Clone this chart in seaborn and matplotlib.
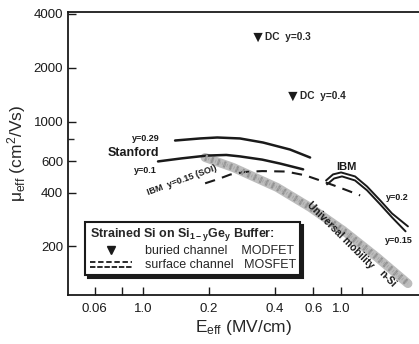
import matplotlib
matplotlib.use("Agg")
import matplotlib.pyplot as plt
import pandas as pd
import seaborn as sns
from matplotlib.legend_handler import HandlerBase
from matplotlib.lines import Line2D

# Stanford strained-Si MOSFETs
stanford_029_e = [0.140, 0.182, 0.218, 0.277, 0.353, 0.469, 0.579]
stanford_029_mu = [783, 804, 814, 804, 763, 697, 629]
stanford_01_e = [0.117, 0.150, 0.196, 0.240, 0.277, 0.350, 0.422, 0.538]
stanford_01_mu = [598, 622, 645, 650, 638, 612, 582, 540]

# IBM y=0.15 on SOI (dashed)
ibm_soi_e = [0.192, 0.222, 0.250, 0.290, 0.350, 0.450, 0.550, 0.650, 0.740, 0.850, 0.980]
ibm_soi_mu = [451, 478, 505, 522, 528, 525, 500, 466, 440, 413, 386]

# IBM y=0.2 / y=0.15
ibm_02_e = [0.685, 0.737, 0.802, 0.929, 1.054, 1.21, 1.37, 1.62]
ibm_02_mu = [468, 506, 519, 493, 433, 362, 306, 259]
ibm_015_e = [0.692, 0.745, 0.810, 0.929, 1.054, 1.21, 1.37, 1.58]
ibm_015_mu = [445, 480, 493, 468, 412, 344, 291, 243]

# universal mobility of n-Si
universal_e = [0.192, 0.258, 0.409, 0.579, 0.819, 1.17, 1.62]
universal_mu = [629, 553, 428, 331, 246, 174, 124]

# buried channel MODFETs
dc_e = [0.335, 0.483]
dc_mu = [2950, 1380]
dc_labels = ["DC  y=0.3", "DC  y=0.4"]

x_ticks = [0.06, 0.08, 0.1, 0.2, 0.4, 0.6, 0.8, 1.0]
x_tick_labels = ["0.06", "", "1.0", "0.2", "0.4", "0.6", "1.0", ""]
y_ticks = [200, 400, 600, 1000, 2000, 4000]
y_minor_ticks = [800]


def curve_frame(name, e, mu):
    return pd.DataFrame({"curve": name, "E": e, "mu": mu})


df = pd.concat(
    [
        curve_frame("universal", universal_e, universal_mu),
        curve_frame("stanford_029", stanford_029_e, stanford_029_mu),
        curve_frame("stanford_01", stanford_01_e, stanford_01_mu),
        curve_frame("ibm_soi", ibm_soi_e, ibm_soi_mu),
        curve_frame("ibm_02", ibm_02_e, ibm_02_mu),
        curve_frame("ibm_015", ibm_015_e, ibm_015_mu),
    ],
    ignore_index=True,
)
dc_df = pd.DataFrame({"E": dc_e, "mu": dc_mu, "label": dc_labels})

styles = {
    "universal": dict(color="#bdbdbd", lw=6.5, ls="-"),
    "stanford_029": dict(color="#1a1a1a", lw=1.8, ls="-"),
    "stanford_01": dict(color="#1a1a1a", lw=1.8, ls="-"),
    "ibm_soi": dict(color="#1a1a1a", lw=1.5, ls=(0, (5, 3.5))),
    "ibm_02": dict(color="#1a1a1a", lw=1.4, ls="-"),
    "ibm_015": dict(color="#1a1a1a", lw=1.4, ls="-"),
}

sns.set_style("ticks")
plt.rcParams["font.family"] = ["Liberation Sans", "DejaVu Sans"]
plt.rcParams["mathtext.fontset"] = "custom"
plt.rcParams["mathtext.rm"] = "Liberation Sans"
plt.rcParams["mathtext.it"] = "Liberation Sans:italic"
plt.rcParams["mathtext.bf"] = "Liberation Sans:bold"

fig = plt.figure(figsize=(4.19, 3.44), dpi=100)
ax = fig.add_axes([68 / 419, 49 / 344, 351 / 419, 283 / 344])

for name, st in styles.items():
    sns.lineplot(
        data=df[df["curve"] == name], x="E", y="mu", ax=ax,
        sort=False, estimator=None, legend=False, **st,
    )
# fine speckled texture on the universal band
uni = df[df["curve"] == "universal"]
sns.lineplot(data=uni, x="E", y="mu", ax=ax, sort=False, estimator=None,
             legend=False, color="#939393", lw=4.5, ls=(0, (0.35, 0.7)))
sns.lineplot(data=uni, x="E", y="mu", ax=ax, sort=False, estimator=None,
             legend=False, color="#a5a5a5", lw=2.2, ls=(0.5, (0.3, 0.5)))

sns.scatterplot(data=dc_df, x="E", y="mu", ax=ax, marker="v", s=45,
                color="#1a1a1a", edgecolor="none", legend=False)
for _, r in dc_df.iterrows():
    ax.text(r["E"] * 1.075, r["mu"] * 1.01, r["label"], fontsize=7.3,
            fontweight="bold", ha="left", va="center")

ax.set_xscale("log")
ax.set_yscale("log")
ax.set_xlim(0.0454, 1.82)
ax.set_ylim(107, 4100)

ax.set_xticks(x_ticks)
ax.set_xticklabels(x_tick_labels)
ax.xaxis.set_minor_locator(matplotlib.ticker.NullLocator())
ax.set_yticks(y_ticks)
ax.set_yticklabels([str(t) for t in y_ticks])
ax.set_yticks(y_minor_ticks, minor=True)
ax.yaxis.set_minor_formatter(matplotlib.ticker.NullFormatter())
ax.tick_params(axis="both", which="major", direction="in", length=6, width=1,
               labelsize=9.5, colors="#1a1a1a")
ax.tick_params(axis="y", which="minor", direction="in", length=4, width=1)
ax.tick_params(axis="x", pad=6)

for side in ["left", "bottom", "top"]:
    ax.spines[side].set_linewidth(1.3)
    ax.spines[side].set_color("#1a1a1a")
ax.spines["right"].set_visible(False)

ax.set_xlabel("E$_{\\mathrm{eff}}$ (MV/cm)", fontsize=12.5, labelpad=2)
ax.set_ylabel("\u03bc$_{\\mathrm{eff}}$ (cm$^2$/Vs)", fontsize=12.5, labelpad=4)

# curve annotations
kw = dict(fontweight="bold", ha="center", va="center", color="#1a1a1a")
ax.text(0.103, 804, "y=0.29", fontsize=6.5, **kw)
ax.text(0.090, 663, "Stanford", fontsize=9, **kw)
ax.text(0.102, 532, "y=0.1", fontsize=6.5, **kw)
ax.text(0.151, 470, "IBM  y=0.15 (SOI)", fontsize=6.5, rotation=20,
        rotation_mode="anchor", **kw)
ax.text(0.845, 560, "IBM", fontsize=8, **kw)
ax.text(1.445, 376, "y=0.2", fontsize=6.5, **kw)
ax.text(1.47, 216, "y=0.15", fontsize=6.5, **kw)
ax.text(0.80, 232, "Universal mobility", fontsize=7.5, rotation=-45,
        rotation_mode="anchor", **kw)
ax.text(1.30, 131, "n-Si", fontsize=7.5, rotation=-45, rotation_mode="anchor", **kw)


class DoubleLineHandler(HandlerBase):
    def create_artists(self, legend, orig_handle, xdescent, ydescent,
                       width, height, fontsize, trans):
        top = Line2D([0, width], [0.75 * height] * 2, color="#1a1a1a", lw=1.3,
                     ls=(0, (3, 1.5)), transform=trans)
        bot = Line2D([0, width], [0.15 * height] * 2, color="#1a1a1a", lw=1.3,
                     ls=(0, (3, 1.0)), transform=trans)
        return [top, bot]


tri_handle = Line2D([], [], marker="v", ls="none", color="#1a1a1a", markersize=6)
line_handle = Line2D([], [], color="#1a1a1a")
leg = ax.legend(
    [tri_handle, line_handle],
    ["buried channel    MODFET", "surface channel   MOSFET"],
    handler_map={line_handle: DoubleLineHandler()},
    title="Strained Si on Si$\\mathbf{_{1-y}}$Ge$\\mathbf{_y}$ Buffer:",
    title_fontproperties={"weight": "bold", "size": 9},
    alignment="left", fontsize=9, loc="lower left",
    bbox_to_anchor=(0.031, 0.047), frameon=True, fancybox=False,
    shadow={"color": "#1a1a1a", "alpha": 1}, handlelength=3.4,
    handletextpad=1.0, borderpad=0.35, labelspacing=0.15, framealpha=1,
    edgecolor="#1a1a1a",
)
leg.get_frame().set_linewidth(1.5)

fig.savefig("out.png", dpi=100)
